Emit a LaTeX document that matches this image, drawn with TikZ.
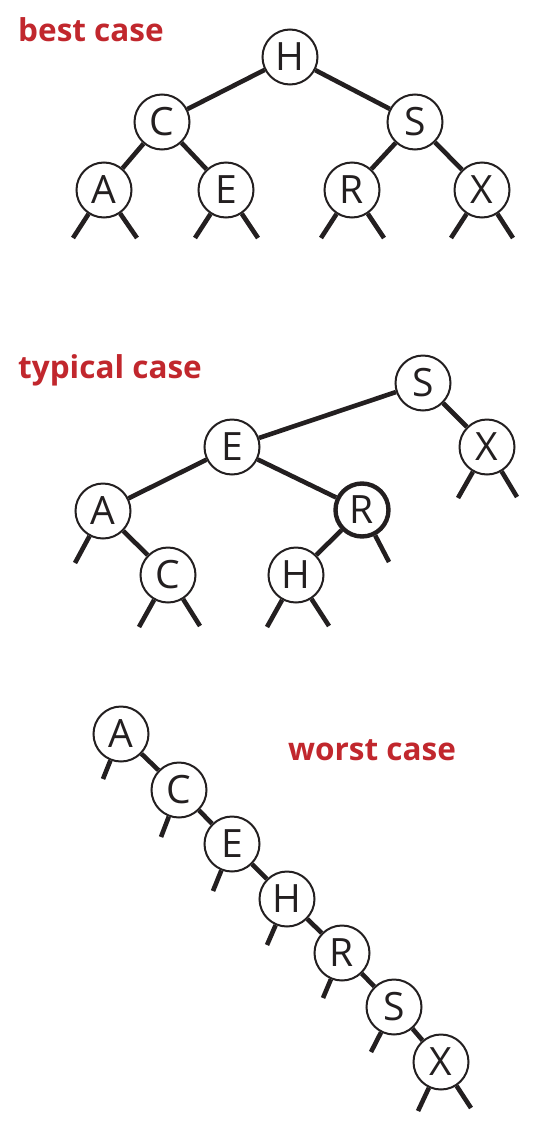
\documentclass[tikz,border=0pt]{standalone}
\usepackage{fontspec}
\setmainfont{Open Sans}
\usetikzlibrary{positioning}
\definecolor{casered}{RGB}{193,39,45}
\definecolor{inkblack}{RGB}{35,31,32}

\begin{document}
\begin{tikzpicture}[x=1pt,y=-1pt,on grid,
		keynode/.style={circle,draw=inkblack,line width=2pt,fill=white,inner sep=0pt,minimum size=55pt,text=inkblack,font=\fontsize{39}{39}\selectfont},
		heavynode/.style={keynode,line width=4.4pt,minimum size=53pt},
		caselabel/.style={anchor=base west,inner sep=0pt,text=casered,font=\fontsize{31.5}{31.5}\selectfont\bfseries},
		link/.style={draw=inkblack,line width=4.6pt}]
		\useasboundingbox (0,0) rectangle (557,1146);

		% best case
		\node[caselabel]													(best)	at (18,41)	{best case};
		\node[keynode]														(bH)	at (290,57)	{H};
		\node[keynode,below left=65pt and 128pt of bH]						(bC)		{C};
		\node[keynode,below right=65pt and 125pt of bH]					(bS)		{S};
		\node[keynode,below left=68pt and 58pt of bC]						(bA)		{A};
		\node[keynode,below right=68pt and 64pt of bC]						(bE)		{E};
		\node[keynode,below left=68pt and 63pt of bS]						(bR)		{R};
		\node[keynode,below right=68pt and 67pt of bS]						(bX)		{X};
		\coordinate[below left=48pt and 31pt of bA]	(bA-l);	\coordinate[below right=48pt and 33pt of bA]	(bA-r);
		\coordinate[below left=48pt and 31pt of bE]	(bE-l);	\coordinate[below right=48pt and 32pt of bE]	(bE-r);
		\coordinate[below left=48pt and 31pt of bR]	(bR-l);	\coordinate[below right=48pt and 32pt of bR]	(bR-r);
		\coordinate[below left=48pt and 31pt of bX]	(bX-l);	\coordinate[below right=48pt and 31pt of bX]	(bX-r);

		\draw[link] (bH) -- (bC);
		\draw[link] (bH) -- (bS);
		\draw[link] (bC) -- (bA);
		\draw[link] (bC) -- (bE);
		\draw[link] (bS) -- (bR);
		\draw[link] (bS) -- (bX);
		\draw[link] (bA) -- (bA-l);	\draw[link] (bA) -- (bA-r);
		\draw[link] (bE) -- (bE-l);	\draw[link] (bE) -- (bE-r);
		\draw[link] (bR) -- (bR-l);	\draw[link] (bR) -- (bR-r);
		\draw[link] (bX) -- (bX-l);	\draw[link] (bX) -- (bX-r);

		% typical case
		\node[caselabel]													(typical)	at (18,378)	{typical case};
		\node[keynode]														(tS)	at (423,383)	{S};
		\node[keynode,below right=64pt and 64pt of tS]						(tX)		{X};
		\node[keynode,below left=64pt and 191pt of tS]						(tE)		{E};
		\node[keynode,below left=64pt and 129pt of tE]						(tA)		{A};
		\node[heavynode,below right=63pt and 130pt of tE]					(tR)		{R};
		\node[keynode,below right=64pt and 65pt of tA]						(tC)		{C};
		\node[keynode,below left=65pt and 66pt of tR]						(tH)		{H};
		\coordinate[below left=51pt and 29pt of tX]	(tX-l);	\coordinate[below right=50pt and 30pt of tX]	(tX-r);
		\coordinate[below left=52pt and 28pt of tA]	(tA-l);
		\coordinate[below right=52pt and 27pt of tR]	(tR-r);
		\coordinate[below left=52pt and 29pt of tC]	(tC-l);	\coordinate[below right=51pt and 32pt of tC]	(tC-r);
		\coordinate[below left=52pt and 29pt of tH]	(tH-l);	\coordinate[below right=51pt and 33pt of tH]	(tH-r);

		\draw[link] (tS) -- (tE);
		\draw[link] (tS) -- (tX);
		\draw[link] (tE) -- (tA);
		\draw[link] (tE) -- (tR);
		\draw[link] (tA) -- (tC);
		\draw[link] (tR) -- (tH);
		\draw[link] (tX) -- (tX-l);	\draw[link] (tX) -- (tX-r);
		\draw[link] (tA) -- (tA-l);
		\draw[link] (tR) -- (tR-r);
		\draw[link] (tC) -- (tC-l);	\draw[link] (tC) -- (tC-r);
		\draw[link] (tH) -- (tH-l);	\draw[link] (tH) -- (tH-r);

		% worst case
		\node[caselabel]													(worst)	at (288,760)	{worst case};
		\node[keynode]														(wA)	at (121,734)	{A};
		\node[keynode,below right=56pt and 58pt of wA]						(wC)		{C};
		\node[keynode,below right=54pt and 53pt of wC]						(wE)		{E};
		\node[keynode,below right=55pt and 55pt of wE]						(wH)		{H};
		\node[keynode,below right=54pt and 55pt of wH]						(wR)		{R};
		\node[keynode,below right=54pt and 52pt of wR]						(wS)		{S};
		\node[keynode,below right=55pt and 47pt of wS]						(wX)		{X};
		\coordinate[below left=45pt and 18pt of wA]	(wA-l);
		\coordinate[below left=47pt and 18pt of wC]	(wC-l);
		\coordinate[below left=47pt and 19pt of wE]	(wE-l);
		\coordinate[below left=46pt and 20pt of wH]	(wH-l);
		\coordinate[below left=45pt and 19pt of wR]	(wR-l);
		\coordinate[below left=45pt and 23pt of wS]	(wS-l);
		\coordinate[below left=49pt and 23pt of wX]	(wX-l);	\coordinate[below right=46pt and 30pt of wX]	(wX-r);

		\draw[link] (wA) -- (wC);
		\draw[link] (wC) -- (wE);
		\draw[link] (wE) -- (wH);
		\draw[link] (wH) -- (wR);
		\draw[link] (wR) -- (wS);
		\draw[link] (wS) -- (wX);
		\draw[link] (wA) -- (wA-l);
		\draw[link] (wC) -- (wC-l);
		\draw[link] (wE) -- (wE-l);
		\draw[link] (wH) -- (wH-l);
		\draw[link] (wR) -- (wR-l);
		\draw[link] (wS) -- (wS-l);
		\draw[link] (wX) -- (wX-l);	\draw[link] (wX) -- (wX-r);
	\end{tikzpicture}
\end{document}
